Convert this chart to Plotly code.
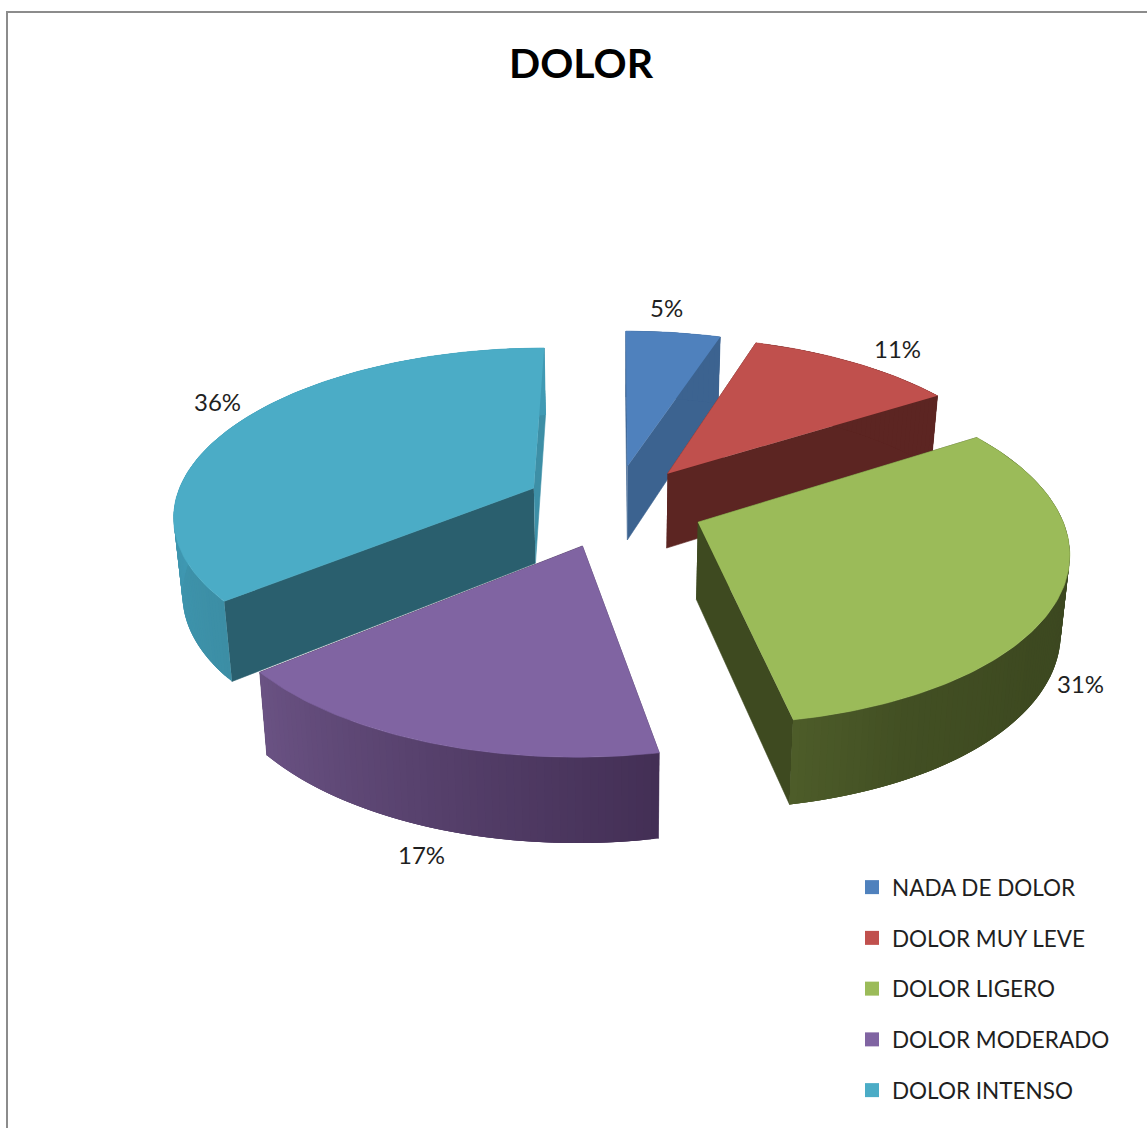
import numpy as np
import plotly.graph_objects as go

# Chart data
categories = ["NADA DE DOLOR", "DOLOR MUY LEVE", "DOLOR LIGERO", "DOLOR MODERADO", "DOLOR INTENSO"]
shares = [5, 11, 31, 17, 36]
title_text = "DOLOR"

# Slice colours
top_colors = ["#4F81BD", "#C0504D", "#9BBB59", "#8064A2", "#4BACC6"]
start_face_colors = ["#3C6390", "#5C2522", "#3E4A20", "#432F55", "#2A5F6E"]
end_face_colors = ["#3C6390", "#5C2522", "#3E4A20", "#432F55", "#3D8FA6"]
rim_stops = [
    [(0, "#3C6390"), (1, "#3C6390")],
    [(0, "#5C2522"), (1, "#5C2522")],
    [(0, "#3B4620"), (0.6, "#3D4920"), (0.85, "#424F23"), (1, "#4D5C29")],
    [(0, "#432F55"), (1, "#6A5283")],
    [(0, "#3C8EA5"), (0.35, "#409AB4"), (1, "#409AB4")],
]

# Perspective camera used to project the exploded disc on to the page
CX, CY = 614.0, 505.5
SCALE_X, SCALE_Y = 360.0, 166.0
PERSPECTIVE = 0.15
EXPLODE = 0.25
RIM_DEPTH, RIM_DEPTH_SLOPE = 76.0, 8.0
RIM_TAPER = 0.98

# Back-to-front painting order
PAINT_ORDER = [0, 1, 4, 2, 3]

# Label nudges in pixels, relative to a point just outside each slice
LABEL_RADIUS = 1.15
label_shift_x = [-13, 19, -38, 20, 22]
label_shift_y = [8, 0, -77, -76, 13]

FONT = "Lato, Carlito, sans-serif"
INK = "#1F1F1F"
FRAME = "#8C8C8C"


def hex_rgb(code):
    return [int(code[i:i + 2], 16) for i in (1, 3, 5)]


def blend(stops, t):
    pos = [s[0] for s in stops]
    rgb = np.array([hex_rgb(s[1]) for s in stops], dtype=float)
    return "rgb({:.0f},{:.0f},{:.0f})".format(*[np.interp(t, pos, rgb[:, i]) for i in range(3)])


def project(x, y):
    w = 1 + PERSPECTIVE * y
    return CX + SCALE_X * x / w, CY - SCALE_Y * y / w


def project_low(x, y):
    sx, sy = project(x, y)
    return CX + (sx - CX) * RIM_TAPER, sy + RIM_DEPTH - RIM_DEPTH_SLOPE * y


def polygon(px, py, color, edge=0.6):
    return go.Scatter(
        x=px, y=py, mode="lines", fill="toself", fillcolor=color,
        line=dict(color=color, width=edge), hoverinfo="skip", showlegend=False,
    )


total = sum(shares)
edges = np.radians(np.cumsum([0] + shares) / total * 360)

traces = []
annotations = []
for i in PAINT_ORDER:
    a0, a1 = edges[i], edges[i + 1]
    mid = (a0 + a1) / 2
    ox, oy = EXPLODE * np.sin(mid), EXPLODE * np.cos(mid)
    steps = max(8, int(np.degrees(a1 - a0)))
    angles = np.linspace(a0, a1, steps + 1)
    xs, ys = ox + np.sin(angles), oy + np.cos(angles)

    # The two cut faces running from the axis to the rim
    for edge, color in ((0, start_face_colors[i]), (-1, end_face_colors[i])):
        fx = np.array([ox, xs[edge]])
        fy = np.array([oy, ys[edge]])
        tx, ty = project(fx, fy)
        bx, by = project_low(fx, fy)
        traces.append(polygon([tx[0], tx[1], bx[1], bx[0]], [ty[0], ty[1], by[1], by[0]], color))

    # Outer rim: each strip runs on under the next so no seams show between them
    tx, ty = project(xs, ys)
    bx, by = project_low(xs, ys)
    for k in range(steps):
        t = (k + 0.5) / steps
        j = min(k + 3, steps)
        traces.append(polygon(
            np.r_[tx[k:j + 1], bx[k:j + 1][::-1]],
            np.r_[ty[k:j + 1], by[k:j + 1][::-1]],
            blend(rim_stops[i], t), edge=0,
        ))

    # Top face
    cx, cy = project(ox, oy)
    traces.append(polygon(np.r_[cx, tx], np.r_[cy, ty], top_colors[i]))

    # Percentage label
    lx, ly = project(ox + LABEL_RADIUS * np.sin(mid), oy + LABEL_RADIUS * np.cos(mid))
    annotations.append(dict(
        x=float(lx), y=float(ly), xref="x", yref="y", showarrow=False,
        text=f"{round(shares[i] / total * 100)}%",
        xshift=label_shift_x[i], yshift=label_shift_y[i],
        font=dict(family=FONT, size=24, color=INK),
    ))

# Legend entries
for name, color in zip(categories, top_colors):
    traces.append(go.Scatter(
        x=[None], y=[None], mode="markers", name=name, legendgroup=name,
        marker=dict(symbol="square", size=14, color=color),
    ))

fig = go.Figure(traces)
fig.update_layout(
    width=1147, height=1128, margin=dict(l=0, r=0, t=0, b=0, pad=0),
    paper_bgcolor="white", plot_bgcolor="white",
    xaxis=dict(range=[0, 1147], visible=False, fixedrange=True),
    yaxis=dict(range=[1128, 0], visible=False, fixedrange=True),
    title=dict(
        text=f"<b>{title_text}</b>", x=581 / 1147, xanchor="center",
        y=1 - 64 / 1128, yanchor="middle",
        font=dict(family=FONT, size=41, color="black"),
    ),
    legend=dict(
        x=852 / 1147, xanchor="left", y=1 - 866 / 1128, yanchor="top",
        font=dict(family=FONT, size=22.5, color=INK), tracegroupgap=18.5,
        bgcolor="rgba(0,0,0,0)", itemclick=False, itemdoubleclick=False,
    ),
    annotations=annotations,
    shapes=[
        dict(type="line", xref="x", yref="y", x0=7, x1=7, y0=12, y1=1128, line=dict(color=FRAME, width=2)),
        dict(type="line", xref="x", yref="y", x0=6, x1=1147, y0=12, y1=12, line=dict(color=FRAME, width=2)),
    ],
)

fig.write_html("out.html", config={"displayModeBar": False})
